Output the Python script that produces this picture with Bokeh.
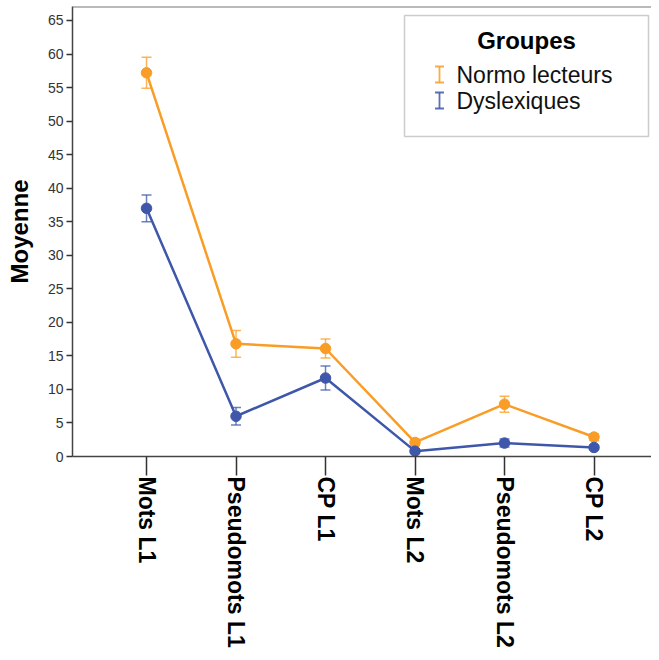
import math
from bokeh.plotting import figure
from bokeh.models import (ColumnDataSource, Whisker, TeeHead, FixedTicker, Span,
                          BoxAnnotation, Label)
from bokeh.embed import file_html
from bokeh.resources import INLINE

categories = ["Mots L1", "Pseudomots L1", "CP L1", "Mots L2", "Pseudomots L2", "CP L2"]
normo_mean = [57.2, 16.8, 16.1, 2.1, 7.8, 2.9]
normo_err = [2.3, 2.0, 1.4, 0.5, 1.2, 0.5]
dys_mean = [37.0, 6.0, 11.7, 0.8, 2.0, 1.35]
dys_err = [2.0, 1.3, 1.8, 0.3, 0.6, 0.3]
y_ticks = list(range(0, 70, 5))
group_names = ["Normo lecteurs", "Dyslexiques"]
legend_title = "Groupes"
y_label = "Moyenne"

ORANGE = "#F99D26"
BLUE = "#3E57AA"
colors = [ORANGE, BLUE]
FONT = "Liberation Sans"

W, H = 651, 652
B_LEFT, B_TOP, B_BOTTOM = 72, 6, 196
FRAME_W = W - B_LEFT
FRAME_H = H - B_TOP - B_BOTTOM
PX_PER_X = 89.5
X_START = -0.827
X_END = X_START + FRAME_W / PX_PER_X
Y_START = 0
Y_END = FRAME_H / 6.708


def dx(px):
    return X_START + (px - B_LEFT) / PX_PER_X


def dy(py):
    return Y_START + (B_TOP + FRAME_H - py) / 6.708


p = figure(width=W, height=H, x_range=(X_START, X_END), y_range=(Y_START, Y_END),
           output_backend="svg", toolbar_location=None,
           min_border_left=B_LEFT, min_border_right=0, min_border_top=B_TOP,
           min_border_bottom=B_BOTTOM)
p.outline_line_color = None
p.grid.visible = False
p.background_fill_color = "white"

xs = list(range(len(categories)))
series = [(normo_mean, normo_err), (dys_mean, dys_err)]
for (means, errs), col in zip(series, colors):
    src = ColumnDataSource(dict(x=xs, y=means,
                                lo=[m - e for m, e in zip(means, errs)],
                                hi=[m + e for m, e in zip(means, errs)]))
    p.line("x", "y", source=src, line_color=col, line_width=2.5)
    w = Whisker(base="x", lower="lo", upper="hi", source=src, dimension="height",
                line_color=col, line_width=1.5, line_alpha=0.75,
                upper_head=TeeHead(size=10, line_color=col, line_width=1.5, line_alpha=0.75),
                lower_head=TeeHead(size=10, line_color=col, line_width=1.5, line_alpha=0.75))
    p.add_layout(w)
    p.scatter("x", "y", source=src, size=10.5, fill_color=col, line_color=col)

# axes
p.xaxis.ticker = FixedTicker(ticks=xs)
p.xaxis.major_label_overrides = {i: c for i, c in enumerate(categories)}
p.xaxis.major_label_orientation = -math.pi / 2
p.xaxis.major_label_text_font = FONT
p.xaxis.major_label_text_font_style = "bold"
p.xaxis.major_label_text_font_size = "23px"
p.xaxis.major_label_text_color = "black"
p.xaxis.major_tick_out = 19
p.xaxis.major_tick_in = 0
p.xaxis.minor_tick_line_color = None
p.xaxis.major_label_standoff = 1

p.yaxis.ticker = FixedTicker(ticks=y_ticks)
p.yaxis.major_label_text_font = FONT
p.yaxis.major_label_text_font_size = "14px"
p.yaxis.major_label_text_color = "#333333"
p.yaxis.major_tick_out = 6
p.yaxis.major_tick_in = 0
p.yaxis.minor_tick_line_color = None
p.yaxis.major_label_standoff = 3
p.yaxis.axis_label = y_label
p.yaxis.axis_label_text_font = FONT
p.yaxis.axis_label_text_font_style = "bold"
p.yaxis.axis_label_text_font_size = "24px"
p.yaxis.axis_label_text_color = "black"
p.yaxis.axis_label_standoff = 12

for ax in (p.xaxis, p.yaxis):
    ax.axis_line_color = "#444444"
    ax.axis_line_width = 1.5
    ax.major_tick_line_color = "#333333"
    ax.major_tick_line_width = 1.5

p.add_layout(Span(location=Y_END, dimension="width", line_color="#777777", line_width=2))

# legend
p.add_layout(BoxAnnotation(left=dx(404), right=dx(648), top=dy(15), bottom=dy(136),
                           fill_color="white", fill_alpha=1.0,
                           line_color="#555555", line_width=1.5))
p.add_layout(Label(x=dx(526), y=dy(40), text=legend_title, text_align="center",
                   text_baseline="middle", text_font=FONT, text_font_style="bold",
                   text_font_size="24px", text_color="black"))
rows_py = [74, 100]
for name, col, py in zip(group_names, colors, rows_py):
    lsrc = ColumnDataSource(dict(x=[dx(439)], lo=[dy(py + 8)], hi=[dy(py - 8)]))
    p.add_layout(Whisker(base="x", lower="lo", upper="hi", source=lsrc, dimension="height",
                         level="overlay",
                         line_color=col, line_width=1.8, line_alpha=0.85,
                         upper_head=TeeHead(size=9, line_color=col, line_width=1.8, line_alpha=0.85),
                         lower_head=TeeHead(size=9, line_color=col, line_width=1.8, line_alpha=0.85)))
    p.add_layout(Label(x=dx(456), y=dy(py), text=name, text_align="left",
                       text_baseline="middle", text_font=FONT,
                       text_font_size="23px", text_color="#111111"))

open("out.html", "w").write(file_html(p, INLINE))
